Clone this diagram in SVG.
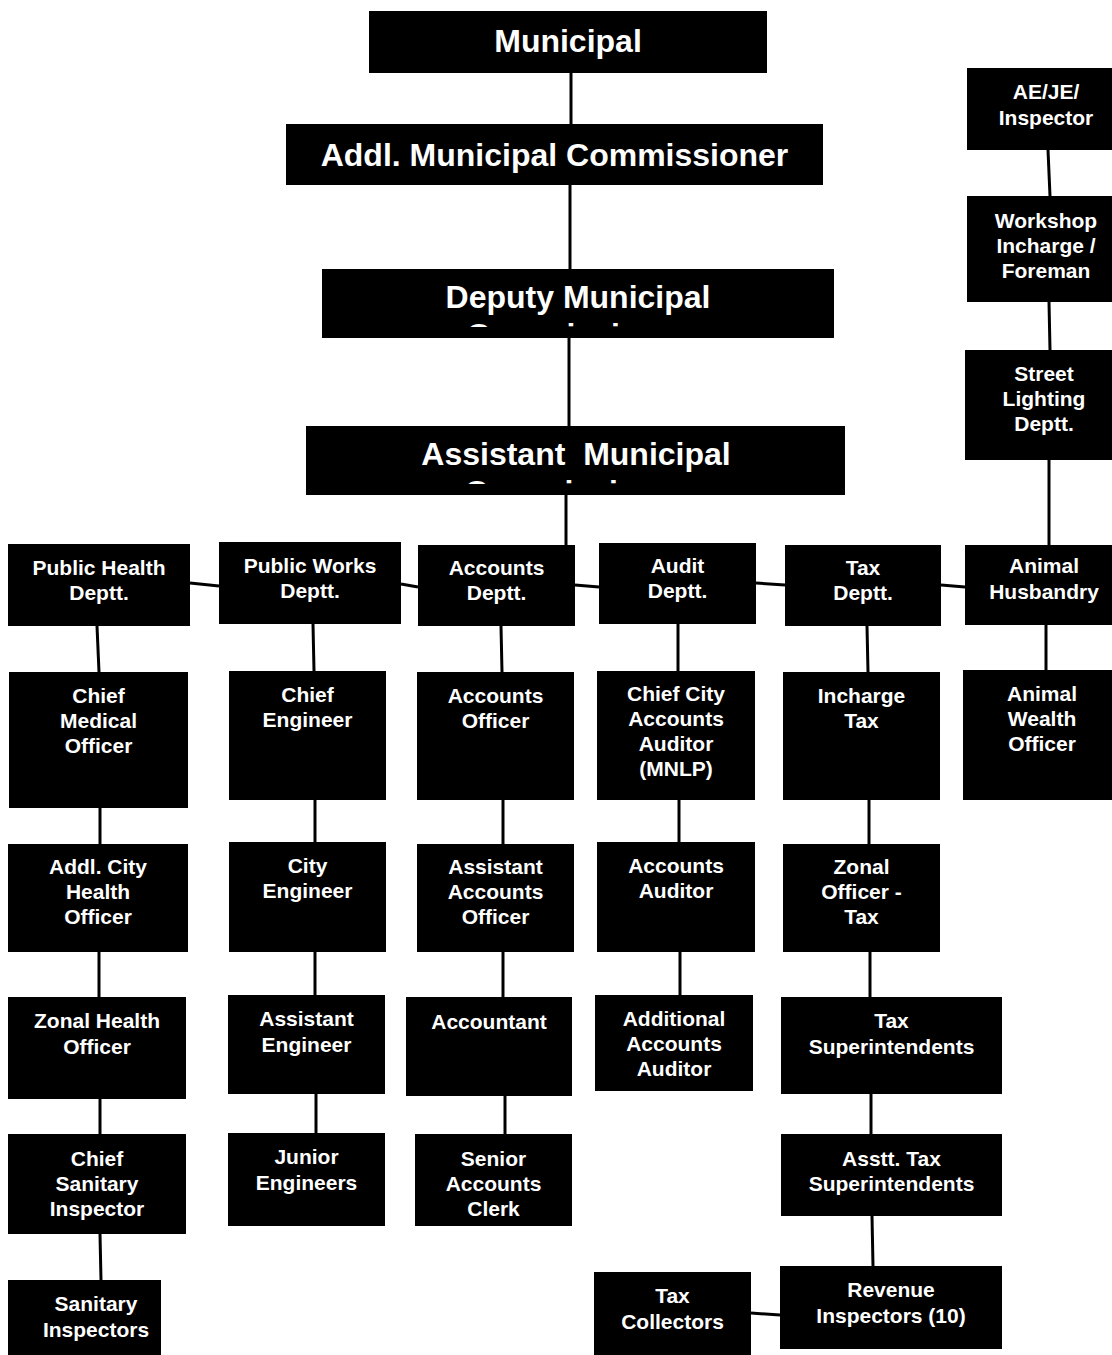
<svg xmlns="http://www.w3.org/2000/svg" width="1112" height="1355" viewBox="0 0 1112 1355">
<style>
.b{fill:#000}
.t{font-family:"Liberation Sans",Arial,sans-serif;font-weight:bold;font-size:21px;fill:#fff;text-anchor:middle}
.big{font-size:32px}
.c{stroke:#000;stroke-width:3;fill:none}
</style>
<defs>
<clipPath id="clipDep"><rect x="322" y="269" width="512" height="58"/></clipPath>
<clipPath id="clipAss"><rect x="306" y="426" width="539" height="58"/></clipPath>
</defs>
<rect width="1112" height="1355" fill="#fff"/>
<g id="connectors">
<line class="c" x1="571" y1="73" x2="571" y2="124"/>
<line class="c" x1="570" y1="185" x2="570" y2="269"/>
<line class="c" x1="569" y1="338" x2="569" y2="426"/>
<line class="c" x1="566" y1="495" x2="566" y2="545"/>
<line class="c" x1="1048" y1="150" x2="1050" y2="196"/>
<line class="c" x1="1049" y1="302" x2="1050" y2="350"/>
<line class="c" x1="1049" y1="460" x2="1049" y2="545"/>
<line class="c" x1="190" y1="583" x2="219" y2="586"/>
<line class="c" x1="401" y1="584" x2="418" y2="587"/>
<line class="c" x1="575" y1="585" x2="599" y2="587"/>
<line class="c" x1="756" y1="583" x2="785" y2="585"/>
<line class="c" x1="941" y1="585" x2="965" y2="587"/>
<line class="c" x1="97" y1="626" x2="99" y2="672"/>
<line class="c" x1="100" y1="808" x2="100" y2="844"/>
<line class="c" x1="99" y1="952" x2="99" y2="997"/>
<line class="c" x1="100" y1="1099" x2="100" y2="1134"/>
<line class="c" x1="100" y1="1234" x2="101" y2="1280"/>
<line class="c" x1="313" y1="624" x2="314" y2="671"/>
<line class="c" x1="315" y1="800" x2="315" y2="842"/>
<line class="c" x1="315" y1="952" x2="315" y2="995"/>
<line class="c" x1="316" y1="1094" x2="316" y2="1133"/>
<line class="c" x1="501" y1="626" x2="502" y2="672"/>
<line class="c" x1="503" y1="800" x2="503" y2="844"/>
<line class="c" x1="503" y1="952" x2="503" y2="997"/>
<line class="c" x1="505" y1="1096" x2="505" y2="1134"/>
<line class="c" x1="678" y1="624" x2="678" y2="671"/>
<line class="c" x1="679" y1="800" x2="679" y2="842"/>
<line class="c" x1="680" y1="952" x2="680" y2="995"/>
<line class="c" x1="867" y1="626" x2="868" y2="672"/>
<line class="c" x1="869" y1="800" x2="869" y2="844"/>
<line class="c" x1="870" y1="952" x2="870" y2="997"/>
<line class="c" x1="871" y1="1094" x2="871" y2="1134"/>
<line class="c" x1="872" y1="1216" x2="873" y2="1266"/>
<line class="c" x1="1046" y1="625" x2="1046" y2="670"/>
<line class="c" x1="751" y1="1313" x2="780" y2="1315"/>
</g>
<g id="municipal"><rect class="b" x="369" y="11" width="398" height="62"/><text class="t big" x="568" y="52">Municipal</text></g>
<g id="addl-commissioner"><rect class="b" x="286" y="124" width="537" height="61"/><text class="t big" x="554.5" y="166">Addl. Municipal Commissioner</text></g>
<g id="deputy-commissioner"><rect class="b" x="322" y="269" width="512" height="69"/><text class="t big" x="578" y="308" clip-path="url(#clipDep)"><tspan x="578">Deputy Municipal</tspan><tspan x="578" dy="38">Commissioner</tspan></text></g>
<g id="assistant-commissioner"><rect class="b" x="306" y="426" width="539" height="69"/><text class="t big" x="576" y="465" clip-path="url(#clipAss)" xml:space="preserve"><tspan x="576">Assistant  Municipal</tspan><tspan x="576" dy="38">Commissioner</tspan></text></g>

<g id="ae-je-inspector"><rect class="b" x="967" y="68" width="158" height="82"/><text class="t" x="1046" y="99"><tspan x="1046">AE/JE/</tspan><tspan x="1046" dy="26">Inspector</tspan></text></g>
<g id="workshop"><rect class="b" x="967" y="196" width="158" height="106"/><text class="t" x="1046" y="228"><tspan x="1046">Workshop</tspan><tspan x="1046" dy="25">Incharge /</tspan><tspan x="1046" dy="25">Foreman</tspan></text></g>
<g id="street-lighting"><rect class="b" x="965" y="350" width="158" height="110"/><text class="t" x="1044" y="381"><tspan x="1044">Street</tspan><tspan x="1044" dy="25">Lighting</tspan><tspan x="1044" dy="25">Deptt.</tspan></text></g>

<g id="public-health"><rect class="b" x="8" y="544" width="182" height="82"/><text class="t" x="99" y="575"><tspan x="99">Public Health</tspan><tspan x="99" dy="25">Deptt.</tspan></text></g>
<g id="public-works"><rect class="b" x="219" y="542" width="182" height="82"/><text class="t" x="310" y="573"><tspan x="310">Public Works</tspan><tspan x="310" dy="25">Deptt.</tspan></text></g>
<g id="accounts-deptt"><rect class="b" x="418" y="545" width="157" height="81"/><text class="t" x="496.5" y="575"><tspan x="496.5">Accounts</tspan><tspan x="496.5" dy="25">Deptt.</tspan></text></g>
<g id="audit-deptt"><rect class="b" x="599" y="543" width="157" height="81"/><text class="t" x="677.5" y="573"><tspan x="677.5">Audit</tspan><tspan x="677.5" dy="25">Deptt.</tspan></text></g>
<g id="tax-deptt"><rect class="b" x="785" y="545" width="156" height="81"/><text class="t" x="863" y="575"><tspan x="863">Tax</tspan><tspan x="863" dy="25">Deptt.</tspan></text></g>
<g id="animal-husbandry"><rect class="b" x="965" y="545" width="158" height="80"/><text class="t" x="1044" y="573"><tspan x="1044">Animal</tspan><tspan x="1044" dy="26">Husbandry</tspan></text></g>

<g id="chief-medical-officer"><rect class="b" x="9" y="672" width="179" height="136"/><text class="t" x="98.5" y="703"><tspan x="98.5">Chief</tspan><tspan x="98.5" dy="25">Medical</tspan><tspan x="98.5" dy="25">Officer</tspan></text></g>
<g id="chief-engineer"><rect class="b" x="229" y="671" width="157" height="129"/><text class="t" x="307.5" y="702"><tspan x="307.5">Chief</tspan><tspan x="307.5" dy="25">Engineer</tspan></text></g>
<g id="accounts-officer"><rect class="b" x="417" y="672" width="157" height="128"/><text class="t" x="495.5" y="703"><tspan x="495.5">Accounts</tspan><tspan x="495.5" dy="25">Officer</tspan></text></g>
<g id="chief-city-accounts-auditor"><rect class="b" x="597" y="671" width="158" height="129"/><text class="t" x="676" y="701"><tspan x="676">Chief City</tspan><tspan x="676" dy="25">Accounts</tspan><tspan x="676" dy="25">Auditor</tspan><tspan x="676" dy="25">(MNLP)</tspan></text></g>
<g id="incharge-tax"><rect class="b" x="783" y="672" width="157" height="128"/><text class="t" x="861.5" y="703"><tspan x="861.5">Incharge</tspan><tspan x="861.5" dy="25">Tax</tspan></text></g>
<g id="animal-wealth-officer"><rect class="b" x="963" y="670" width="158" height="130"/><text class="t" x="1042" y="701"><tspan x="1042">Animal</tspan><tspan x="1042" dy="25">Wealth</tspan><tspan x="1042" dy="25">Officer</tspan></text></g>

<g id="addl-city-health-officer"><rect class="b" x="8" y="844" width="180" height="108"/><text class="t" x="98" y="874"><tspan x="98">Addl. City</tspan><tspan x="98" dy="25">Health</tspan><tspan x="98" dy="25">Officer</tspan></text></g>
<g id="city-engineer"><rect class="b" x="229" y="842" width="157" height="110"/><text class="t" x="307.5" y="873"><tspan x="307.5">City</tspan><tspan x="307.5" dy="25">Engineer</tspan></text></g>
<g id="assistant-accounts-officer"><rect class="b" x="417" y="844" width="157" height="108"/><text class="t" x="495.5" y="874"><tspan x="495.5">Assistant</tspan><tspan x="495.5" dy="25">Accounts</tspan><tspan x="495.5" dy="25">Officer</tspan></text></g>
<g id="accounts-auditor"><rect class="b" x="597" y="842" width="158" height="110"/><text class="t" x="676" y="873"><tspan x="676">Accounts</tspan><tspan x="676" dy="25">Auditor</tspan></text></g>
<g id="zonal-officer-tax"><rect class="b" x="783" y="844" width="157" height="108"/><text class="t" x="861.5" y="874"><tspan x="861.5">Zonal</tspan><tspan x="861.5" dy="25">Officer -</tspan><tspan x="861.5" dy="25">Tax</tspan></text></g>

<g id="zonal-health-officer"><rect class="b" x="8" y="997" width="178" height="102"/><text class="t" x="97" y="1028"><tspan x="97">Zonal Health</tspan><tspan x="97" dy="26">Officer</tspan></text></g>
<g id="assistant-engineer"><rect class="b" x="228" y="995" width="157" height="99"/><text class="t" x="306.5" y="1026"><tspan x="306.5">Assistant</tspan><tspan x="306.5" dy="26">Engineer</tspan></text></g>
<g id="accountant"><rect class="b" x="406" y="997" width="166" height="99"/><text class="t" x="489" y="1029">Accountant</text></g>
<g id="additional-accounts-auditor"><rect class="b" x="595" y="995" width="158" height="96"/><text class="t" x="674" y="1026"><tspan x="674">Additional</tspan><tspan x="674" dy="25">Accounts</tspan><tspan x="674" dy="25">Auditor</tspan></text></g>
<g id="tax-superintendents"><rect class="b" x="781" y="997" width="221" height="97"/><text class="t" x="891.5" y="1028"><tspan x="891.5">Tax</tspan><tspan x="891.5" dy="26">Superintendents</tspan></text></g>

<g id="chief-sanitary-inspector"><rect class="b" x="8" y="1134" width="178" height="100"/><text class="t" x="97" y="1166"><tspan x="97">Chief</tspan><tspan x="97" dy="25">Sanitary</tspan><tspan x="97" dy="25">Inspector</tspan></text></g>
<g id="junior-engineers"><rect class="b" x="228" y="1133" width="157" height="93"/><text class="t" x="306.5" y="1164"><tspan x="306.5">Junior</tspan><tspan x="306.5" dy="26">Engineers</tspan></text></g>
<g id="senior-accounts-clerk"><rect class="b" x="415" y="1134" width="157" height="92"/><text class="t" x="493.5" y="1166"><tspan x="493.5">Senior</tspan><tspan x="493.5" dy="25">Accounts</tspan><tspan x="493.5" dy="25">Clerk</tspan></text></g>
<g id="asstt-tax-superintendents"><rect class="b" x="781" y="1134" width="221" height="82"/><text class="t" x="891.5" y="1166"><tspan x="891.5">Asstt. Tax</tspan><tspan x="891.5" dy="25">Superintendents</tspan></text></g>

<g id="sanitary-inspectors"><rect class="b" x="8" y="1280" width="153" height="80"/><text class="t" x="96" y="1311"><tspan x="96">Sanitary</tspan><tspan x="96" dy="26">Inspectors</tspan></text></g>
<g id="tax-collectors"><rect class="b" x="594" y="1272" width="157" height="88"/><text class="t" x="672.5" y="1303"><tspan x="672.5">Tax</tspan><tspan x="672.5" dy="26">Collectors</tspan></text></g>
<g id="revenue-inspectors"><rect class="b" x="780" y="1266" width="222" height="83"/><text class="t" x="891" y="1297"><tspan x="891">Revenue</tspan><tspan x="891" dy="26">Inspectors (10)</tspan></text></g>
</svg>
